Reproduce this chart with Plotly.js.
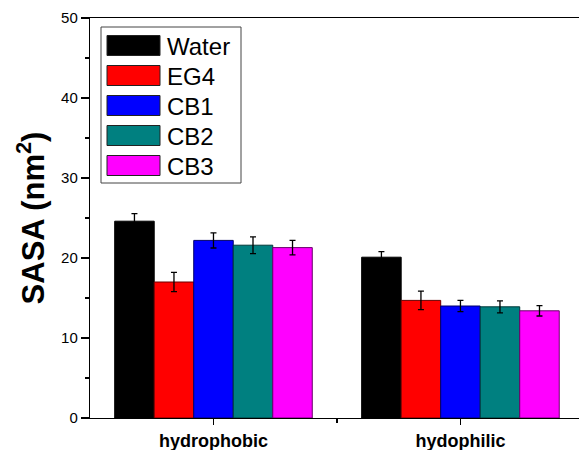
<!DOCTYPE html>
<html>
<head>
<meta charset="utf-8">
<script src="https://cdn.plot.ly/plotly-3.0.1.min.js"></script>
<style>
  html, body { margin: 0; padding: 0; background: #fff; }
  #chart { width: 579px; height: 450px; }
</style>
</head>
<body>
<div id="chart"></div>
<script>
// Solvent-accessible surface area per residue class and solvent
const categories = ['hydrophobic', 'hydophilic'];
const seriesNames = ['Water', 'EG4', 'CB1', 'CB2', 'CB3'];
const water = [24.6, 20.1];
const eg4   = [17.0, 14.7];
const cb1   = [22.2, 14.0];
const cb2   = [21.6, 13.9];
const cb3   = [21.3, 13.4];
const waterErr = [0.95, 0.7];
const eg4Err   = [1.2, 1.15];
const cb1Err   = [0.95, 0.7];
const cb2Err   = [1.05, 0.75];
const cb3Err   = [0.9, 0.65];

const values = [water, eg4, cb1, cb2, cb3];
const errors = [waterErr, eg4Err, cb1Err, cb2Err, cb3Err];
const fills = ['#000000', '#ff0000', '#0000ff', '#008080', '#ff00ff'];
const edges = ['#000000', '#6a0000', '#00006a', '#003838', '#6a006a'];

const xpos = categories.map((c, i) => i);
const FONT = 'Arial, "Liberation Sans", sans-serif';

const traces = values.map((v, k) => ({
  type: 'bar',
  name: seriesNames[k],
  x: xpos,
  y: v,
  marker: { color: fills[k], line: { color: edges[k], width: 1 } },
  error_y: { type: 'data', array: errors[k], visible: true, color: '#000', thickness: 1.3, width: 3 },
  showlegend: false,
  hoverinfo: 'skip'
}));

// plot area in pixels, used to place the boxed legend
const L = 90, R = 579, T = 18, B = 418;
const px = x => (x - L) / (R - L);
const py = y => (B - y) / (B - T);

const shapes = [{
  type: 'rect', xref: 'paper', yref: 'paper',
  x0: px(101), x1: px(241), y0: py(183), y1: py(27),
  line: { color: '#444', width: 1 }, fillcolor: 'rgba(0,0,0,0)'
}];
const annotations = [];
seriesNames.forEach((name, k) => {
  const cy = 45.5 + 30 * k;
  shapes.push({
    type: 'rect', xref: 'paper', yref: 'paper',
    x0: px(107), x1: px(160), y0: py(cy + 10), y1: py(cy - 10),
    fillcolor: fills[k], line: { color: '#222', width: 1 }
  });
  annotations.push({
    xref: 'paper', yref: 'paper', x: px(165), y: py(cy + 1),
    xanchor: 'left', yanchor: 'middle', showarrow: false,
    text: name, font: { family: FONT, size: 24, color: '#000' }
  });
});

const layout = {
  width: 579, height: 450,
  margin: { l: L, r: 579 - R, t: T, b: 450 - B, pad: 0 },
  paper_bgcolor: '#fff', plot_bgcolor: '#fff',
  barmode: 'group', bargap: 0.2, bargroupgap: 0,
  showlegend: false,
  xaxis: {
    range: [-0.5, 1.48],
    tickmode: 'array', tickvals: xpos, ticktext: categories,
    ticks: 'outside', ticklen: 6, tickwidth: 1.2, tickcolor: '#000',
    minor: { tickmode: 'array', tickvals: [0.5], ticks: 'outside', ticklen: 4, tickwidth: 1.2, tickcolor: '#000' },
    showline: true, linecolor: '#000', linewidth: 1.2, mirror: true,
    showgrid: false, zeroline: false,
    tickfont: { family: FONT, size: 18, color: '#000', weight: 'bold' }
  },
  yaxis: {
    range: [0, 50], dtick: 10, tick0: 0,
    ticks: 'outside', ticklen: 8, tickwidth: 1.2, tickcolor: '#000',
    minor: { dtick: 5, ticks: 'outside', ticklen: 4, tickwidth: 1.2, tickcolor: '#000' },
    showline: true, linecolor: '#000', linewidth: 1.2,
    showgrid: false, zeroline: false,
    tickfont: { family: FONT, size: 15, color: '#000' },
    title: { text: 'SASA (nm<sup>2</sup>)', standoff: 7,
             font: { family: FONT, size: 31, color: '#000', weight: 'bold' } }
  },
  shapes: shapes,
  annotations: annotations
};

Plotly.newPlot('chart', traces, layout, { displayModeBar: false, staticPlot: true });
</script>
</body>
</html>
